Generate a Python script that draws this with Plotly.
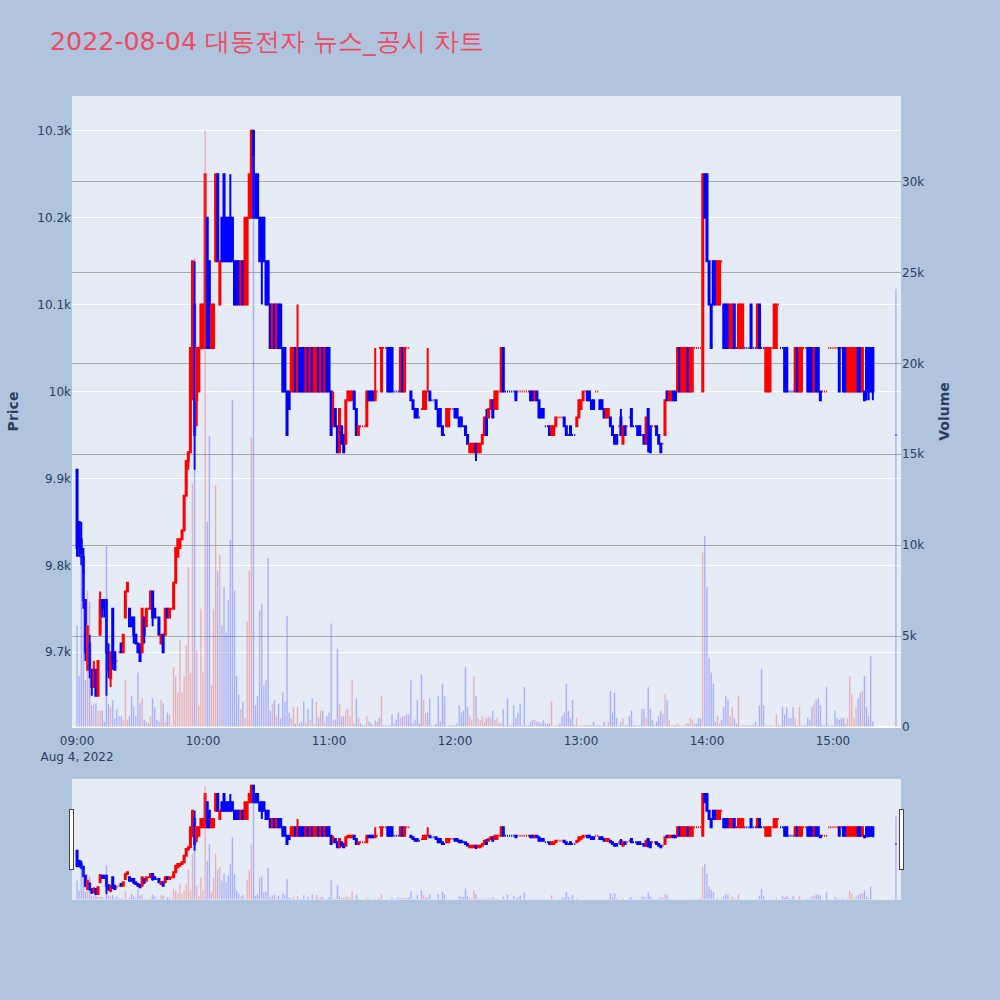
import pandas as pd
import plotly.graph_objects as go
from plotly.subplots import make_subplots

# ---- data (1-minute candles, 2022-08-04) ----
times = pd.date_range("2022-08-04 09:00", periods=380, freq="min").append(
    pd.DatetimeIndex(["2022-08-04 15:30"]))

opens = [
    9910, 9850, 9830, 9810, 9760, 9680, 9710, 9680, 9660, 9680,
    9650, 9720, 9760, 9760, 9760, 9700, 9670, 9750, 9700, 9690,
    9700, 9710, 9700, 9740, 9770, 9750, 9740, 9740, 9720, 9710,
    9700, 9700, 9740, 9730, 9750, 9750, 9770, 9750, 9740, 9740,
    9710, 9720, 9720, 9750, 9740, 9750, 9750, 9780, 9810, 9820,
    9830, 9840, 9880, 9920, 9930, 10000, 10100, 9990, 10000, 10050,
    10050, 10050, 10200, 10150, 10050, 10050, 10150, 10250, 10100, 10200,
    10250, 10200, 10200, 10200, 10200, 10150, 10150, 10150, 10100, 10150,
    10100, 10100, 10200, 10200, 10300, 10250, 10250, 10200, 10200, 10200,
    10150, 10150, 10100, 10050, 10100, 10050, 10100, 10100, 10050, 10050,
    10000, 10000, 10000, 10000, 10050, 10000, 10050, 10050, 10050, 10000,
    10050, 10000, 10050, 10000, 10000, 10050, 10000, 10050, 10000, 10050,
    10050, 10000, 9960, 9980, 9960, 9930, 9960, 9950, 9940, 9990,
    9990, 9990, 10000, 9980, 9950, 9960, 9960, 9960, 9960, 10000,
    10000, 10000, 9990, 10000, 10050, 10000, 10050, 10050, 10050, 10050,
    10050, 10000, 10000, 10000, 10000, 10050, 10000, 10050, 10050, 10000,
    9990, 9980, 9980, 9970, 9980, 9980, 9980, 10000, 10000, 9990,
    9990, 9990, 9980, 9980, 9960, 9950, 9960, 9960, 9980, 9980,
    9980, 9980, 9970, 9970, 9960, 9960, 9950, 9930, 9930, 9930,
    9940, 9930, 9930, 9940, 9950, 9970, 9970, 9980, 9990, 9980,
    9980, 10000, 10000, 10050, 10000, 10000, 10000, 10000, 10000, 10000,
    10000, 10000, 10000, 10000, 10000, 10000, 10000, 10000, 9990, 10000,
    9990, 9980, 9980, 9960, 9960, 9960, 9950, 9950, 9960, 9970,
    9970, 9970, 9970, 9960, 9950, 9960, 9950, 9950, 9960, 9970,
    9980, 9990, 10000, 10000, 10000, 9990, 9990, 10000, 10000, 9990,
    9990, 9980, 9970, 9970, 9970, 9960, 9950, 9950, 9960, 9970,
    9940, 9960, 9960, 9970, 9980, 9960, 9960, 9960, 9960, 9950,
    9950, 9940, 9980, 9960, 9960, 9960, 9960, 9950, 9940, 9940,
    9950, 10000, 9990, 9990, 10000, 10000, 10000, 10050, 10000, 10000,
    10000, 10050, 10000, 10000, 10050, 10050, 10050, 10050, 10000, 10250,
    10250, 10150, 10100, 10150, 10150, 10100, 10100, 10150, 10100, 10100,
    10100, 10050, 10050, 10100, 10050, 10050, 10050, 10050, 10050, 10050,
    10050, 10100, 10050, 10050, 10050, 10100, 10050, 10050, 10000, 10000,
    10000, 10050, 10050, 10050, 10100, 10050, 10050, 10050, 10050, 10000,
    10000, 10000, 10000, 10050, 10000, 10000, 10050, 10050, 10050, 10050,
    10050, 10000, 10050, 10050, 10000, 10000, 10000, 10000, 10050, 10050,
    10050, 10050, 10050, 10050, 10050, 10050, 10050, 10000, 10000, 10000,
    10000, 10000, 10050, 10050, 10000, 10000, 10050, 10050, 10050, 10050,
    9950,
]

highs = [
    9910, 9850, 9850, 9820, 9760, 9730, 9720, 9680, 9690, 9680,
    9690, 9770, 9760, 9760, 9760, 9710, 9700, 9750, 9700, 9690,
    9700, 9710, 9720, 9770, 9780, 9750, 9740, 9740, 9720, 9710,
    9710, 9750, 9740, 9750, 9750, 9770, 9770, 9750, 9740, 9740,
    9720, 9720, 9750, 9750, 9750, 9750, 9780, 9820, 9830, 9830,
    9840, 9880, 9920, 9930, 10050, 10150, 10150, 10050, 10050, 10100,
    10100, 10250, 10200, 10150, 10100, 10100, 10250, 10250, 10150, 10200,
    10250, 10200, 10200, 10250, 10200, 10150, 10150, 10150, 10150, 10150,
    10200, 10200, 10250, 10300, 10300, 10250, 10250, 10200, 10200, 10200,
    10150, 10150, 10100, 10100, 10100, 10100, 10100, 10100, 10050, 10050,
    10000, 10000, 10050, 10050, 10050, 10100, 10050, 10050, 10050, 10050,
    10050, 10050, 10050, 10050, 10050, 10050, 10050, 10050, 10050, 10050,
    10050, 10000, 10000, 9980, 9960, 9980, 9960, 9950, 9990, 10000,
    10000, 10000, 10000, 9980, 9960, 9960, 9960, 9960, 10000, 10000,
    10000, 10000, 10050, 10000, 10050, 10050, 10050, 10050, 10050, 10050,
    10050, 10000, 10000, 10000, 10050, 10050, 10050, 10050, 10050, 10000,
    9990, 9980, 9980, 9970, 9980, 10000, 10000, 10050, 10000, 9990,
    9990, 9990, 9980, 9980, 9960, 9950, 9980, 9980, 9980, 9980,
    9980, 9980, 9970, 9970, 9960, 9960, 9950, 9940, 9940, 9940,
    9940, 9940, 9940, 9950, 9970, 9980, 9980, 9990, 9990, 10000,
    10000, 10000, 10050, 10050, 10000, 10000, 10000, 10000, 10000, 10000,
    10000, 10000, 10000, 10000, 10000, 10000, 10000, 10000, 10000, 10000,
    9990, 9980, 9980, 9960, 9960, 9960, 9960, 9960, 9970, 9970,
    9970, 9970, 9970, 9960, 9950, 9960, 9950, 9950, 9970, 9990,
    9990, 10000, 10000, 10000, 10000, 9990, 9990, 10000, 10000, 9990,
    9990, 9980, 9980, 9980, 9970, 9960, 9950, 9950, 9960, 9980,
    9960, 9960, 9960, 9970, 9980, 9960, 9960, 9960, 9960, 9950,
    9950, 9970, 9980, 9960, 9960, 9960, 9960, 9950, 9940, 9940,
    9990, 10000, 10000, 10000, 10000, 10000, 10050, 10050, 10050, 10050,
    10050, 10050, 10050, 10050, 10050, 10050, 10050, 10050, 10250, 10250,
    10250, 10150, 10100, 10150, 10150, 10150, 10150, 10150, 10100, 10100,
    10100, 10100, 10100, 10100, 10050, 10100, 10100, 10100, 10050, 10050,
    10050, 10100, 10050, 10050, 10100, 10100, 10050, 10050, 10050, 10050,
    10050, 10050, 10100, 10100, 10100, 10050, 10050, 10050, 10050, 10000,
    10000, 10000, 10050, 10050, 10050, 10050, 10050, 10050, 10050, 10050,
    10050, 10050, 10050, 10050, 10000, 10000, 10000, 10000, 10050, 10050,
    10050, 10050, 10050, 10050, 10050, 10050, 10050, 10050, 10050, 10050,
    10050, 10050, 10050, 10050, 10050, 10000, 10050, 10050, 10050, 10050,
    9950,
]

lows = [
    9810, 9810, 9800, 9750, 9690, 9680, 9670, 9650, 9660, 9650,
    9650, 9720, 9740, 9740, 9650, 9670, 9660, 9680, 9680, 9690,
    9700, 9700, 9700, 9740, 9770, 9730, 9730, 9710, 9710, 9700,
    9690, 9700, 9710, 9730, 9750, 9750, 9730, 9740, 9740, 9720,
    9710, 9700, 9720, 9740, 9740, 9750, 9750, 9780, 9810, 9820,
    9830, 9840, 9880, 9910, 9930, 9990, 9910, 9960, 10000, 10050,
    10050, 10050, 10050, 10050, 10050, 10050, 10150, 10150, 10100, 10150,
    10150, 10150, 10150, 10150, 10150, 10100, 10100, 10100, 10100, 10100,
    10100, 10100, 10200, 10200, 10200, 10200, 10200, 10150, 10100, 10150,
    10100, 10100, 10050, 10050, 10050, 10050, 10050, 10050, 10000, 10000,
    9950, 9980, 10000, 10000, 10000, 10000, 10000, 10000, 10000, 10000,
    10000, 10000, 10000, 10000, 10000, 10000, 10000, 10000, 10000, 10000,
    10000, 9950, 9960, 9960, 9930, 9930, 9940, 9930, 9940, 9990,
    9990, 9990, 9980, 9950, 9950, 9960, 9960, 9960, 9960, 9990,
    9990, 9990, 9990, 10000, 10050, 10000, 10050, 10050, 10000, 10000,
    10000, 10000, 10000, 10000, 10000, 10000, 10000, 10050, 10050, 9990,
    9980, 9970, 9970, 9970, 9980, 9980, 9980, 10000, 9990, 9990,
    9990, 9980, 9960, 9960, 9950, 9950, 9960, 9960, 9980, 9980,
    9970, 9970, 9960, 9960, 9960, 9950, 9940, 9930, 9930, 9930,
    9920, 9930, 9930, 9940, 9950, 9950, 9970, 9980, 9970, 9980,
    9980, 10000, 10000, 10000, 10000, 10000, 10000, 10000, 10000, 9990,
    10000, 10000, 10000, 10000, 10000, 10000, 9990, 9990, 9990, 9990,
    9970, 9970, 9970, 9960, 9960, 9950, 9950, 9950, 9960, 9970,
    9970, 9970, 9960, 9950, 9950, 9950, 9950, 9950, 9960, 9970,
    9980, 9990, 10000, 9990, 9990, 9980, 9980, 10000, 10000, 9980,
    9980, 9970, 9970, 9970, 9960, 9950, 9940, 9940, 9960, 9950,
    9940, 9950, 9960, 9970, 9960, 9960, 9960, 9950, 9950, 9950,
    9940, 9940, 9930, 9930, 9960, 9960, 9950, 9940, 9930, 9940,
    9950, 9990, 9990, 9990, 9990, 9990, 10000, 10000, 10000, 10000,
    10000, 10000, 10000, 10000, 10050, 10050, 10050, 10050, 10000, 10200,
    10150, 10100, 10050, 10100, 10100, 10100, 10100, 10150, 10050, 10050,
    10050, 10050, 10050, 10050, 10050, 10050, 10050, 10050, 10050, 10050,
    10050, 10050, 10050, 10050, 10050, 10050, 10050, 10050, 10000, 10000,
    10000, 10050, 10050, 10050, 10100, 10050, 10050, 10000, 10000, 10000,
    10000, 10000, 10000, 10000, 10000, 10000, 10050, 10050, 10000, 10000,
    10000, 10000, 10000, 10000, 9990, 10000, 10000, 10000, 10050, 10050,
    10050, 10050, 10050, 10000, 10050, 10000, 10000, 10000, 10000, 10000,
    10000, 10000, 10000, 10000, 10000, 9990, 9990, 9990, 10000, 9990,
    9950,
]

closes = [
    9820, 9820, 9810, 9760, 9700, 9730, 9680, 9660, 9680, 9650,
    9690, 9760, 9750, 9750, 9700, 9680, 9700, 9690, 9680, 9690,
    9700, 9700, 9720, 9770, 9780, 9730, 9730, 9720, 9710, 9700,
    9690, 9750, 9720, 9750, 9750, 9770, 9740, 9740, 9740, 9720,
    9720, 9700, 9750, 9740, 9750, 9750, 9780, 9820, 9830, 9830,
    9840, 9880, 9920, 9930, 10050, 10150, 9950, 10050, 10050, 10100,
    10100, 10250, 10050, 10050, 10100, 10100, 10250, 10150, 10150, 10150,
    10150, 10150, 10150, 10150, 10150, 10100, 10100, 10100, 10150, 10100,
    10200, 10200, 10250, 10300, 10200, 10200, 10200, 10150, 10150, 10150,
    10100, 10100, 10050, 10100, 10050, 10100, 10050, 10050, 10000, 10000,
    9950, 9980, 10050, 10050, 10000, 10050, 10000, 10000, 10000, 10050,
    10000, 10050, 10000, 10050, 10050, 10000, 10050, 10000, 10050, 10000,
    10000, 9950, 9980, 9960, 9930, 9980, 9940, 9930, 9990, 10000,
    10000, 10000, 9980, 9950, 9960, 9960, 9960, 9960, 10000, 9990,
    9990, 9990, 10000, 10000, 10050, 10050, 10050, 10050, 10000, 10000,
    10000, 10000, 10000, 10000, 10050, 10000, 10050, 10050, 10050, 9990,
    9980, 9970, 9970, 9970, 9980, 10000, 10000, 10000, 9990, 9990,
    9990, 9980, 9960, 9960, 9950, 9950, 9980, 9980, 9980, 9980,
    9970, 9970, 9960, 9960, 9960, 9950, 9940, 9940, 9940, 9940,
    9930, 9940, 9940, 9950, 9970, 9950, 9980, 9990, 9970, 10000,
    10000, 10000, 10050, 10000, 10000, 10000, 10000, 10000, 10000, 9990,
    10000, 10000, 10000, 10000, 10000, 10000, 9990, 9990, 10000, 9990,
    9970, 9970, 9970, 9960, 9960, 9950, 9960, 9960, 9970, 9970,
    9970, 9970, 9960, 9950, 9950, 9950, 9950, 9950, 9970, 9990,
    9990, 10000, 10000, 9990, 9990, 9980, 9980, 10000, 10000, 9980,
    9980, 9970, 9980, 9980, 9960, 9950, 9940, 9940, 9960, 9950,
    9960, 9950, 9960, 9970, 9960, 9960, 9960, 9950, 9950, 9950,
    9940, 9970, 9940, 9930, 9960, 9960, 9950, 9940, 9930, 9940,
    9990, 9990, 10000, 10000, 9990, 9990, 10050, 10000, 10050, 10050,
    10050, 10000, 10050, 10050, 10050, 10050, 10050, 10050, 10250, 10200,
    10150, 10100, 10050, 10100, 10100, 10150, 10150, 10150, 10050, 10050,
    10050, 10100, 10100, 10050, 10050, 10100, 10100, 10100, 10050, 10050,
    10050, 10050, 10050, 10050, 10100, 10050, 10050, 10050, 10050, 10050,
    10050, 10050, 10100, 10100, 10100, 10050, 10050, 10000, 10000, 10000,
    10000, 10000, 10050, 10000, 10050, 10050, 10050, 10050, 10000, 10000,
    10000, 10050, 10000, 10000, 9990, 10000, 10000, 10000, 10050, 10050,
    10050, 10050, 10050, 10000, 10050, 10000, 10000, 10050, 10050, 10050,
    10050, 10050, 10000, 10000, 10050, 9990, 10000, 10000, 10000, 10000,
    9950,
]

volumes_k = [
    5.6, 2.8, 9.5, 8.4, 2.6, 7.5, 6.9, 1.2, 1.3, 1.3,
    0.9, 0.9, 0.9, 0.3, 10.0, 1.3, 1.1, 1.5, 0.5, 1.0,
    0.6, 0.6, 0.4, 2.6, 0.4, 0.6, 1.7, 1.1, 0.6, 3.0,
    1.3, 1.6, 0.4, 0.3, 0.2, 0.6, 1.6, 1.1, 0.4, 0.3,
    1.5, 1.3, 0.3, 0.8, 0.7, 0.1, 3.3, 2.8, 1.9, 4.8,
    1.9, 2.8, 4.5, 8.8, 3.0, 13.4, 25.8, 4.2, 1.2, 6.5,
    3.0, 32.8, 11.3, 16.0, 2.3, 6.5, 13.3, 8.6, 9.5, 5.6,
    7.7, 5.2, 7.0, 10.3, 18.0, 7.5, 2.8, 1.8, 1.0, 1.4,
    0.5, 5.8, 8.6, 15.9, 31.4, 1.2, 1.7, 6.4, 6.8, 2.3,
    2.6, 9.3, 0.9, 1.3, 1.5, 0.6, 1.3, 0.5, 1.9, 1.4,
    6.1, 0.8, 0.5, 1.1, 0.2, 1.1, 0.2, 0.3, 1.4, 0.3,
    1.0, 0.4, 1.6, 0.2, 1.4, 0.5, 0.9, 0.9, 0.3, 0.6,
    0.8, 5.7, 0.4, 0.4, 4.3, 1.3, 0.6, 0.6, 0.9, 1.0,
    0.6, 2.6, 0.2, 1.6, 0.5, 0.2, 0.1, 0.1, 0.6, 0.3,
    0.2, 0.1, 0.4, 0.3, 0.5, 1.7, 0.1, 0.1, 0.1, 0.1,
    0.7, 0.2, 0.4, 0.8, 0.5, 0.6, 0.6, 0.7, 0.7, 2.6,
    0.2, 0.4, 1.5, 0.2, 2.9, 1.5, 0.8, 0.8, 1.6, 0.1,
    0.1, 0.2, 1.7, 0.3, 2.4, 1.7, 0.1, 0.1, 0.1, 0.1,
    0.1, 0.2, 1.2, 0.8, 0.9, 3.3, 1.1, 0.6, 0.4, 2.8,
    1.7, 0.5, 0.4, 0.6, 0.3, 0.5, 0.6, 0.5, 0.9, 0.4,
    0.5, 0.2, 0.2, 1.0, 0.1, 1.6, 0.1, 0.1, 1.2, 0.5,
    0.8, 1.3, 0.1, 2.2, 0.1, 0.1, 0.3, 0.4, 0.4, 0.3,
    0.3, 0.2, 0.4, 0.2, 0.2, 0.2, 1.4, 0.1, 0.1, 0.1,
    0.2, 0.6, 0.8, 2.4, 0.9, 0.5, 1.5, 0.1, 0.5, 0.1,
    0.1, 0.1, 0.1, 0.1, 0.1, 0.1, 0.3, 0.1, 0.1, 0.1,
    0.1, 0.3, 0.1, 0.3, 2.0, 0.8, 1.9, 0.5, 0.1, 0.3,
    0.5, 0.1, 0.1, 0.6, 0.9, 0.1, 0.1, 0.1, 0.1, 1.0,
    1.0, 0.5, 2.2, 1.0, 0.4, 0.1, 0.3, 0.6, 0.9, 0.7,
    1.8, 1.5, 0.4, 0.1, 0.1, 0.1, 0.2, 0.1, 0.1, 0.1,
    0.2, 0.2, 0.5, 0.4, 0.2, 0.2, 0.5, 0.5, 9.6, 10.5,
    7.7, 3.8, 3.0, 2.4, 0.3, 0.6, 0.2, 0.4, 1.1, 1.7,
    1.5, 0.6, 1.1, 0.5, 0.2, 1.7, 0.1, 0.1, 0.1, 0.1,
    0.1, 0.1, 0.1, 0.3, 0.1, 1.2, 3.2, 1.2, 0.1, 0.1,
    0.1, 0.1, 0.1, 0.7, 0.1, 0.1, 1.1, 0.7, 1.1, 0.5,
    0.5, 1.1, 0.5, 0.1, 1.1, 0.1, 0.1, 0.1, 0.5, 0.4,
    1.1, 1.3, 1.5, 1.6, 1.2, 0.1, 0.1, 2.2, 0.1, 0.1,
    0.1, 0.9, 0.5, 0.4, 0.5, 0.5, 0.2, 0.5, 2.8, 1.8,
    0.5, 1.1, 1.6, 1.9, 2.0, 2.8, 1.1, 0.6, 3.9, 0.3,
    24.1,
]

x_range = ["2022-08-04 08:57:36", "2022-08-04 15:32:24"]
price_range = [9614, 10340]
volume_range = [0, 34700]

volumes = [v * 1000 for v in volumes_k]
vol_colors = ["red" if c > o else "blue" for o, c in zip(opens, closes)]

FONT = "DejaVu Sans, Verdana, sans-serif"

fig = make_subplots(specs=[[{"secondary_y": True}]])
fig.add_trace(
    go.Candlestick(
        x=times, open=opens, high=highs, low=lows, close=closes,
        increasing=dict(line=dict(color="red"), fillcolor="red"),
        decreasing=dict(line=dict(color="blue"), fillcolor="blue"),
        name="Price",
    ),
    secondary_y=False,
)
fig.add_trace(
    go.Bar(x=times, y=volumes, marker_color=vol_colors, opacity=0.3,
           name="Volume"),
    secondary_y=True,
)

fig.update_layout(
    width=1000, height=1000,
    template="plotly",
    font=dict(family=FONT),
    title=dict(text="2022-08-04 대동전자 뉴스_공시 차트",
               font=dict(size=25.3, color="#EE4B63", family=FONT),
               x=0.05, y=0.959, yanchor="middle"),
    paper_bgcolor="lightsteelblue",
    showlegend=False,
    margin=dict(l=72, r=99, t=96, b=100),
    xaxis=dict(domain=[0, 1], showgrid=False, range=x_range,
               ticks="outside", ticklen=3, tickcolor="rgba(0,0,0,0)",
               rangeslider=dict(visible=True, range=x_range)),
)
fig.update_yaxes(title_text="<b>Price</b>", range=price_range,
                 secondary_y=False)
fig.update_yaxes(title_text="<b>Volume</b>", gridcolor="darkgray",
                 range=volume_range, secondary_y=True)

fig.write_html("out.html",
               config={"displayModeBar": False},
               post_script="document.body.style.margin='0px';")
